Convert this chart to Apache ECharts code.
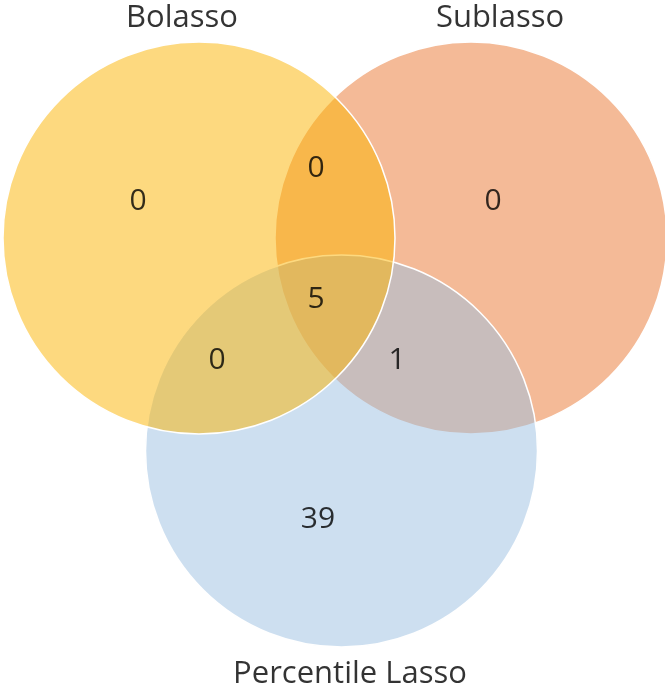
<!DOCTYPE html>
<html>
<head>
<meta charset="utf-8">
<script src="https://cdn.jsdelivr.net/npm/echarts@6/dist/echarts.min.js"></script>
<style>html,body{margin:0;padding:0;background:#fff}#c{width:665px;height:693px}</style>
</head>
<body>
<div id="c"></div>
<script>
// Sets (drawing order: Sublasso, Percentile Lasso, Bolasso on top)
const setNames = ['Sublasso', 'Percentile Lasso', 'Bolasso'];
const setCenterX = [471, 341.5, 199];
const setCenterY = [238, 451, 238];
const setRadius = [196, 196, 196];
const setColors = ['rgba(244,186,151,1)', 'rgba(155,191,226,0.5)', 'rgba(251,179,0,0.5)'];
const setTitleX = [500, 350, 182];
const setTitleY = [18, 674, 18];

// Region counts
const regionNames = ['Bolasso only', 'Bolasso ∩ Sublasso', 'Sublasso only', 'All three', 'Bolasso ∩ Percentile', 'Sublasso ∩ Percentile', 'Percentile only'];
const regionCounts = [0, 0, 0, 5, 0, 1, 39];
const regionX = [138, 316, 493, 316, 217, 397, 318];
const regionY = [201, 168, 201, 299, 360, 360, 519];

const FONT = '"Open Sans", sans-serif';

const chart = echarts.init(document.getElementById('c'), null, {renderer: 'canvas'});
chart.setOption({
  animation: false,
  grid: {left: 0, top: 0, width: 665, height: 693, containLabel: false},
  xAxis: {type: 'value', min: 0, max: 665, show: false},
  yAxis: {type: 'value', min: 0, max: 693, inverse: true, show: false},
  series: [
    {
      type: 'custom',
      coordinateSystem: 'cartesian2d',
      data: setNames.map((n, i) => [setCenterX[i], setCenterY[i], setRadius[i], i]),
      renderItem: function (params, api) {
        const c = api.coord([api.value(0), api.value(1)]);
        const s = api.size([api.value(2), api.value(2)]);
        const i = api.value(3);
        return {
          type: 'circle',
          shape: {cx: c[0], cy: c[1], r: s[0]},
          style: {fill: setColors[i], stroke: '#ffffff', lineWidth: 1.5}
        };
      },
      z: 1
    },
    {
      type: 'scatter',
      data: regionCounts.map((v, i) => ({name: regionNames[i], value: [regionX[i], regionY[i], v]})),
      symbolSize: 0,
      label: {
        show: true, position: 'inside',
        formatter: p => String(p.value[2]),
        color: '#000', fontSize: 30, fontFamily: FONT
      },
      z: 3
    },
    {
      type: 'scatter',
      data: setNames.map((n, i) => ({name: n, value: [setTitleX[i], setTitleY[i]]})),
      symbolSize: 0,
      label: {
        show: true, position: 'inside',
        formatter: p => p.name,
        color: '#000', fontSize: 31, fontFamily: FONT
      },
      z: 3
    }
  ]
});
</script>
</body>
</html>
